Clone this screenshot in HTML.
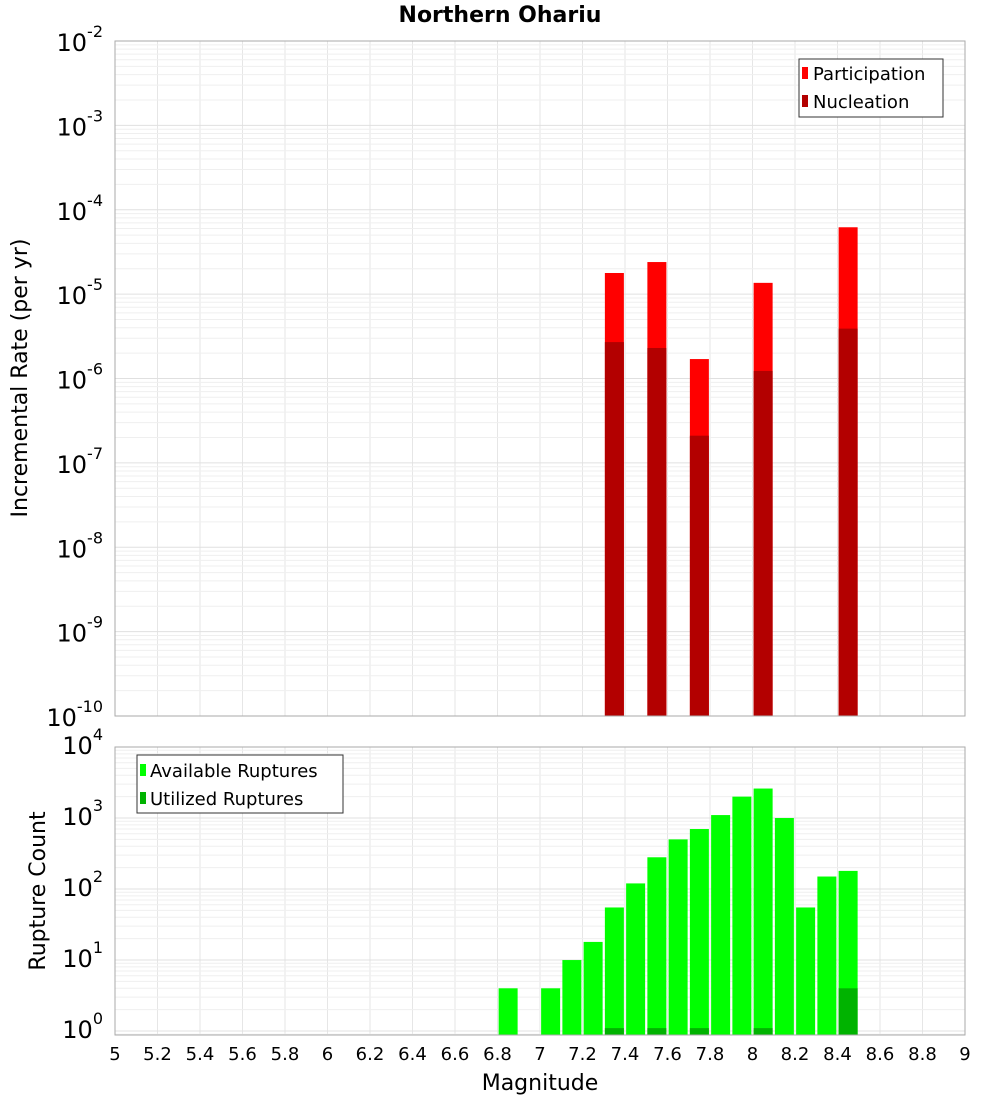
<!DOCTYPE html>
<html><head><meta charset="utf-8"><style>
body{margin:0;background:#fff;font-family:"Liberation Sans","DejaVu Sans",sans-serif}
svg text{font-family:"DejaVu Sans","Liberation Sans",sans-serif}
</style></head><body>
<svg id="c" width="1000" height="1100" xmlns="http://www.w3.org/2000/svg">
<rect width="1000" height="1100" fill="#fff"/>
<text x="500" y="22" text-anchor="middle" font-size="22" font-weight="bold">Northern Ohariu</text>
<g id="grid"></g><g id="bars"></g><g id="axes"></g>
</svg>
<script>
const binCenters=[7.35,7.55,7.75,8.05,8.45];
const participation=[1.78e-5,2.4e-5,1.7e-6,1.36e-5,6.2e-5];
const nucleation=[2.7e-6,2.3e-6,2.1e-7,1.23e-6,3.9e-6];
const countBins=[6.85,7.05,7.15,7.25,7.35,7.45,7.55,7.65,7.75,7.85,7.95,8.05,8.15,8.25,8.35,8.45];
const available=[4,4,10,18,55,120,280,500,700,1100,2000,2600,1000,55,150,180];
const utilizedBins=[7.35,7.55,7.75,8.05,8.45];
const utilized=[1.1,1.1,1.1,1.1,4];
const xTicks=["5","5.2","5.4","5.6","5.8","6","6.2","6.4","6.6","6.8","7","7.2","7.4","7.6","7.8","8","8.2","8.4","8.6","8.8","9"];
const topExp=[-2,-3,-4,-5,-6,-7,-8,-9,-10];
const botExp=[4,3,2,1,0];

const NS="http://www.w3.org/2000/svg";
const X0=115,X1=965;
const xs=m=>X0+(m-5)/4*(X1-X0);
const T0=41,T1=716;
const ty=v=>T0+(-2-Math.log10(v))/8*(T1-T0);
const B0=747,B1=1035,BMINL=Math.log10(0.88);
const by=v=>B0+(4-Math.log10(v))/(4-BMINL)*(B1-B0);
function mk(tag,attrs,parent,name,txt){const e=document.createElementNS(NS,tag);for(const k in attrs)e.setAttribute(k,attrs[k]);


if(txt!==undefined)e.textContent=txt;document.getElementById(parent).appendChild(e);return e;}
// grids
for(const t of xTicks){const x=xs(+t);
mk('line',{x1:x,x2:x,y1:T0,y2:T1,stroke:'#e6e6e6'},'grid','x-grid-top');
mk('line',{x1:x,x2:x,y1:B0,y2:B1,stroke:'#e6e6e6'},'grid','x-grid-bottom');}
for(let e=-10;e<-2;e++)for(let k=1;k<10;k++){const y=ty(k*Math.pow(10,e));mk('line',{x1:X0,x2:X1,y1:y,y2:y,stroke:k==1?'#e0e0e0':'#efefef'},'grid','y-grid-top');}
for(let e=-1;e<4;e++)for(let k=1;k<10;k++){const v=k*Math.pow(10,e);if(v<0.88)continue;const y=by(v);mk('line',{x1:X0,x2:X1,y1:y,y2:y,stroke:k==1?'#e0e0e0':'#efefef'},'grid','y-grid-bottom');}
const bw=19;
binCenters.forEach((m,i)=>{const x=xs(m)-bw/2;
mk('rect',{x:x,y:ty(participation[i]),width:bw,height:T1-ty(participation[i]),fill:'#ff0000'},'bars','participation-bar');
mk('rect',{x:x,y:ty(nucleation[i]),width:bw,height:T1-ty(nucleation[i]),fill:'#b30000'},'bars','nucleation-bar');});
countBins.forEach((m,i)=>{const x=xs(m)-bw/2;
mk('rect',{x:x,y:by(available[i]),width:bw,height:B1-by(available[i]),fill:'#00ff00'},'bars','available-bar');});
utilizedBins.forEach((m,i)=>{const x=xs(m)-bw/2;
mk('rect',{x:x,y:by(utilized[i]),width:bw,height:B1-by(utilized[i]),fill:'#00b300'},'bars','utilized-bar');});
// frames
mk('rect',{x:X0,y:T0,width:X1-X0,height:T1-T0,fill:'none',stroke:'#aaa'},'axes','top-plot-frame');
mk('rect',{x:X0,y:B0,width:X1-X0,height:B1-B0,fill:'none',stroke:'#aaa'},'axes','bottom-plot-frame');
for(const t of xTicks)mk('text',{x:xs(+t),y:1060,'text-anchor':'middle','font-size':18},'axes','x-tick-label',t);
function ylab(y,e,p,name){const g=mk('text',{x:103,y:y+10,'text-anchor':'end','font-size':24},p,name);
const a=document.createElementNS(NS,'tspan');a.textContent='10';g.appendChild(a);
const s=document.createElementNS(NS,'tspan');s.setAttribute('dy','-14');s.setAttribute('font-size','16');s.textContent=String(e);g.appendChild(s);}
for(const e of topExp)ylab(ty(Math.pow(10,e)),e,'axes','top-y-tick-label');
for(const e of botExp)ylab(by(Math.pow(10,e))-3,e,'axes','bottom-y-tick-label');
mk('text',{x:540,y:1090,'text-anchor':'middle','font-size':22},'axes','x-axis-title','Magnitude');
mk('text',{x:27,y:378,'text-anchor':'middle','font-size':22,transform:'rotate(-90 27 378)'},'axes','top-y-axis-title','Incremental Rate (per yr)');
mk('text',{x:45,y:891,'text-anchor':'middle','font-size':22,transform:'rotate(-90 45 891)'},'axes','bottom-y-axis-title','Rupture Count');
// legends
mk('rect',{x:799,y:59,width:144,height:58,fill:'#fff',stroke:'#333'},'axes','top-legend-box');
mk('rect',{x:802,y:67,width:6,height:12,fill:'#ff0000'},'axes','legend-participation-swatch');
mk('text',{x:813,y:80,'font-size':18},'axes','legend-participation','Participation');
mk('rect',{x:802,y:95,width:6,height:12,fill:'#b30000'},'axes','legend-nucleation-swatch');
mk('text',{x:813,y:108,'font-size':18},'axes','legend-nucleation','Nucleation');
mk('rect',{x:137,y:755,width:206,height:58,fill:'#fff',stroke:'#333'},'axes','bottom-legend-box');
mk('rect',{x:140,y:764,width:6,height:12,fill:'#00ff00'},'axes','legend-available-swatch');
mk('text',{x:150,y:777,'font-size':18},'axes','legend-available','Available Ruptures');
mk('rect',{x:140,y:792,width:6,height:12,fill:'#00b300'},'axes','legend-utilized-swatch');
mk('text',{x:150,y:805,'font-size':18},'axes','legend-utilized','Utilized Ruptures');
</script>
</body></html>
